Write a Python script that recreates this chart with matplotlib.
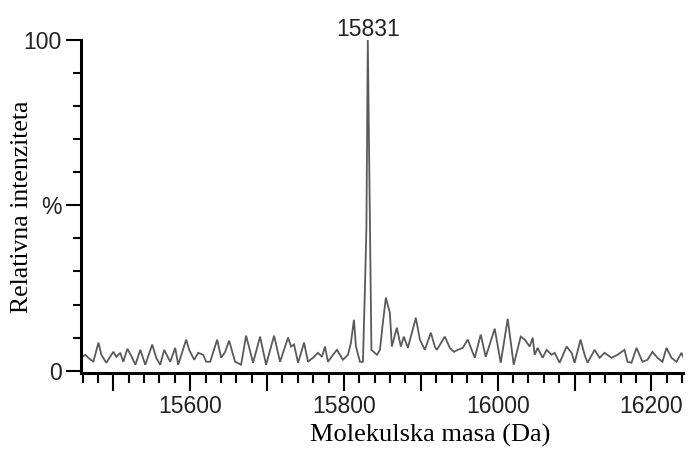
import matplotlib
matplotlib.use('Agg')
import matplotlib.pyplot as plt
from matplotlib.ticker import MultipleLocator, FixedLocator, FixedFormatter

SANS = 'Liberation Sans'
SERIF = 'Liberation Serif'

# deconvoluted spectrum, mass (Da) vs relative intensity (%)
mass = [
    15459.7, 15463.6, 15467.5, 15474.0, 15480.7, 15484.4, 15490.9, 15500.0,
    15503.9, 15509.1, 15513.0, 15518.2, 15523.4, 15528.7, 15535.1, 15541.6,
    15550.6, 15555.8, 15561.0, 15566.2, 15574.0, 15580.5, 15584.4, 15594.8,
    15598.7, 15605.2, 15610.4, 15616.9, 15620.8, 15626.0, 15635.1, 15640.3,
    15645.5, 15650.6, 15658.4, 15666.2, 15672.7, 15681.8, 15690.9, 15698.7,
    15709.1, 15716.9, 15727.3, 15731.2, 15735.1, 15740.3, 15748.1, 15753.2,
    15759.7, 15766.2, 15771.4, 15775.3, 15779.2, 15785.7, 15790.9, 15798.7,
    15805.2, 15809.1, 15813.0, 15815.6, 15820.8, 15824.7, 15827.3, 15829.2,
    15831.0, 15833.8, 15835.7, 15842.9, 15846.8, 15850.6, 15854.5, 15859.7,
    15862.3, 15868.8, 15874.0, 15877.9, 15883.1, 15893.5, 15898.7, 15905.2,
    15913.0, 15918.2, 15920.8, 15931.2, 15937.7, 15942.9, 15948.1, 15954.5,
    15961.0, 15970.1, 15977.9, 15984.4, 15996.1, 16003.9, 16013.0, 16020.8,
    16029.9, 16035.1, 16041.6, 16045.5, 16048.1, 16051.9, 16058.4, 16063.6,
    16070.1, 16074.0, 16080.5, 16089.6, 16096.1, 16100.0, 16107.8, 16113.0,
    16116.9, 16126.0, 16132.5, 16139.0, 16148.1, 16155.8, 16164.9, 16168.8,
    16174.0, 16180.5, 16188.3, 16194.8, 16201.3, 16207.8, 16214.3, 16219.5,
    16226.0, 16232.5, 16239.0, 16242.9,
]
intensity = [
    4.2, 4.8, 3.9, 2.7, 8.5, 4.8, 2.4, 5.7,
    4.2, 5.4, 2.7, 6.6, 4.5, 1.8, 6.3, 1.8,
    7.9, 3.9, 1.8, 6.3, 2.7, 6.9, 1.8, 9.4,
    6.3, 3.3, 5.4, 4.8, 2.7, 2.7, 9.4, 3.9,
    5.7, 9.1, 2.7, 1.8, 10.6, 2.4, 10.3, 1.8,
    10.6, 2.7, 10.0, 7.3, 7.9, 2.4, 8.5, 2.7,
    3.9, 5.4, 4.2, 7.3, 2.7, 4.8, 6.3, 3.3,
    4.8, 8.5, 15.4, 7.3, 2.7, 2.7, 25.1, 43.2,
    100.0, 43.2, 6.3, 4.8, 6.3, 14.5, 22.1, 17.5,
    7.3, 13.0, 7.3, 10.3, 6.9, 16.0, 9.4, 6.3,
    11.5, 7.3, 6.3, 10.3, 6.9, 5.7, 6.3, 6.9,
    9.4, 3.9, 10.9, 4.2, 12.7, 2.4, 15.7, 1.8,
    10.3, 9.4, 7.3, 10.0, 4.8, 6.9, 3.9, 6.3,
    4.8, 5.4, 2.4, 7.3, 5.4, 2.4, 9.4, 4.8,
    2.4, 6.3, 3.9, 5.4, 3.9, 4.8, 6.3, 2.7,
    2.4, 6.9, 2.7, 3.3, 5.7, 3.9, 2.7, 6.9,
    3.9, 2.7, 5.4, 3.3,
]

peak_mass = 15831
peak_label = '15831'

y_ticks = [0, 50, 100]
y_tick_labels = ['0', '%', '100']
x_ticks = [15500, 15600, 15700, 15800, 15900, 16000, 16100, 16200]
x_tick_labels = ['', '15600', '', '15800', '', '16000', '', '16200']

fig = plt.figure(figsize=(6.89, 4.5), dpi=100)
ax = fig.add_axes([0.1176, 0.1711, 0.8737, 0.74])

ax.plot(mass, intensity, color='#5a5a5a', lw=1.3, solid_joinstyle='miter')

ax.set_xlim(15458, 16241)
ax.set_ylim(-0.7, 100)

for s in ('top', 'right'):
    ax.spines[s].set_visible(False)
for s in ('left', 'bottom'):
    ax.spines[s].set_linewidth(2.2)
    ax.spines[s].set_color('black')

ax.yaxis.set_major_locator(FixedLocator(y_ticks))
ax.yaxis.set_major_formatter(FixedFormatter(y_tick_labels))
ax.yaxis.set_minor_locator(MultipleLocator(10))
ax.xaxis.set_major_locator(FixedLocator(x_ticks))
ax.xaxis.set_major_formatter(FixedFormatter(x_tick_labels))
ax.xaxis.set_minor_locator(MultipleLocator(20))

ax.tick_params(axis='y', which='major', length=11, width=1.5, pad=3)
ax.tick_params(axis='y', which='minor', length=6, width=1.5)
ax.tick_params(axis='x', which='major', length=13, width=1.5, pad=3)
ax.tick_params(axis='x', which='minor', length=7, width=1.5)
for lab in ax.get_xticklabels() + ax.get_yticklabels():
    lab.set_fontfamily(SANS)
    lab.set_fontsize(16.5)
    lab.set_color('#222222')

ax.annotate(peak_label, xy=(peak_mass, 100), xytext=(0, -1),
            textcoords='offset points', ha='center', va='bottom',
            fontsize=16.5, family=SANS, color='#222222', annotation_clip=False)

# axis titles placed in figure coordinates
fig.text(430 / 689, 1 - 435 / 450, 'Molekulska masa (Da)', family=SERIF,
         fontsize=19, ha='center', va='center')
fig.text(22 / 689, 1 - 207 / 450, 'Relativna intenziteta', family=SERIF,
         fontsize=18.5, rotation=90, ha='center', va='center')

fig.savefig('out.png', dpi=100, facecolor='white')
